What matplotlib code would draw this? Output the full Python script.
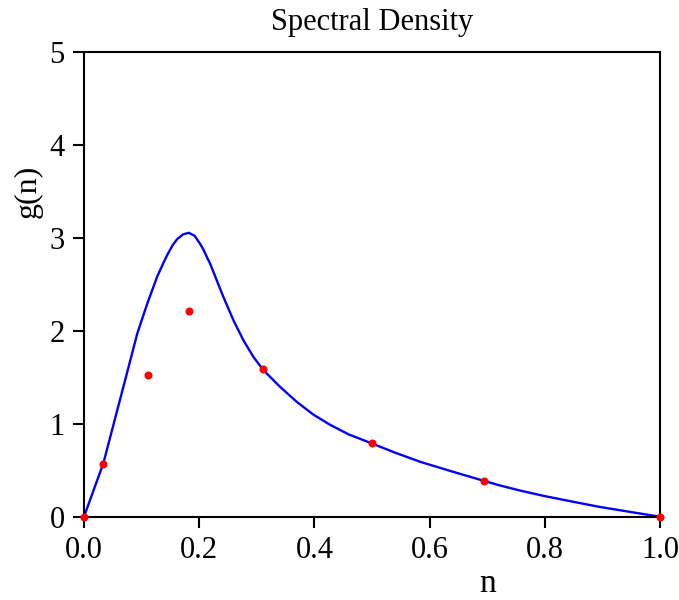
import matplotlib.pyplot as plt

# curve values
curve_n = [0.0, 0.0336, 0.0579, 0.0752, 0.0926, 0.110, 0.127, 0.1377, 0.1447, 0.154,
           0.162, 0.172, 0.182, 0.192, 0.2014, 0.2075, 0.213, 0.2188, 0.2245, 0.2303,
           0.2419, 0.2593, 0.2766, 0.2940, 0.3113, 0.3403, 0.3692, 0.3981, 0.4271, 0.46,
           0.4994, 0.54, 0.5833, 0.64, 0.6933, 0.72, 0.757, 0.7975, 0.85, 0.8958,
           0.95, 1.0]
curve_g = [0.0, 0.575, 1.15, 1.56, 1.974, 2.297, 2.584, 2.73, 2.82, 2.925,
           2.99, 3.04, 3.057, 3.025, 2.94, 2.875, 2.80, 2.727, 2.64, 2.548,
           2.368, 2.117, 1.902, 1.722, 1.579, 1.399, 1.238, 1.100, 0.990, 0.885,
           0.790, 0.690, 0.592, 0.485, 0.388, 0.340, 0.282, 0.225, 0.160, 0.105,
           0.050, 0.0]

# measured points
pts_n = [0.0, 0.0335, 0.1106, 0.1817, 0.3108, 0.4994, 0.694, 1.0]
pts_g = [0.0, 0.57, 1.525, 2.217, 1.587, 0.793, 0.384, 0.0]

xticks = [0.0, 0.2, 0.4, 0.6, 0.8, 1.0]
xtick_labels = ["0.0", "0.2", "0.4", "0.6", "0.8", "1.0"]
yticks = [0, 1, 2, 3, 4, 5]

plt.rcParams['font.family'] = ['Liberation Serif', 'DejaVu Serif']

fig = plt.figure(figsize=(6.79, 6.0), dpi=100)
ax = fig.add_axes([0.1237, 0.1388, 0.8483, 0.774])

ax.plot(curve_n, curve_g, color='#0000ff', lw=1.7, zorder=2,
        solid_joinstyle='round', solid_capstyle='round')
ax.plot(pts_n, pts_g, 'o', color='#ff0000', markersize=5.8, markeredgewidth=0,
        zorder=3, clip_on=False)

ax.set_xlim(0, 1)
ax.set_ylim(0, 5)
ax.set_xticks(xticks)
ax.set_xticklabels(xtick_labels)
ax.set_yticks(yticks)

for s in ax.spines.values():
    s.set_linewidth(1.5)
ax.tick_params(axis='both', direction='out', length=8, width=1.5, pad=6,
               labelsize=22, top=False, right=False)

ax.set_title("Spectral Density", fontsize=22, pad=16)
ax.set_xlabel("n", fontsize=24)
ax.xaxis.set_label_coords(0.70, -0.112)
ax.set_ylabel("g(n)", fontsize=23)
ax.yaxis.set_label_coords(-0.072, 0.70)

fig.savefig("out.png", dpi=100)
